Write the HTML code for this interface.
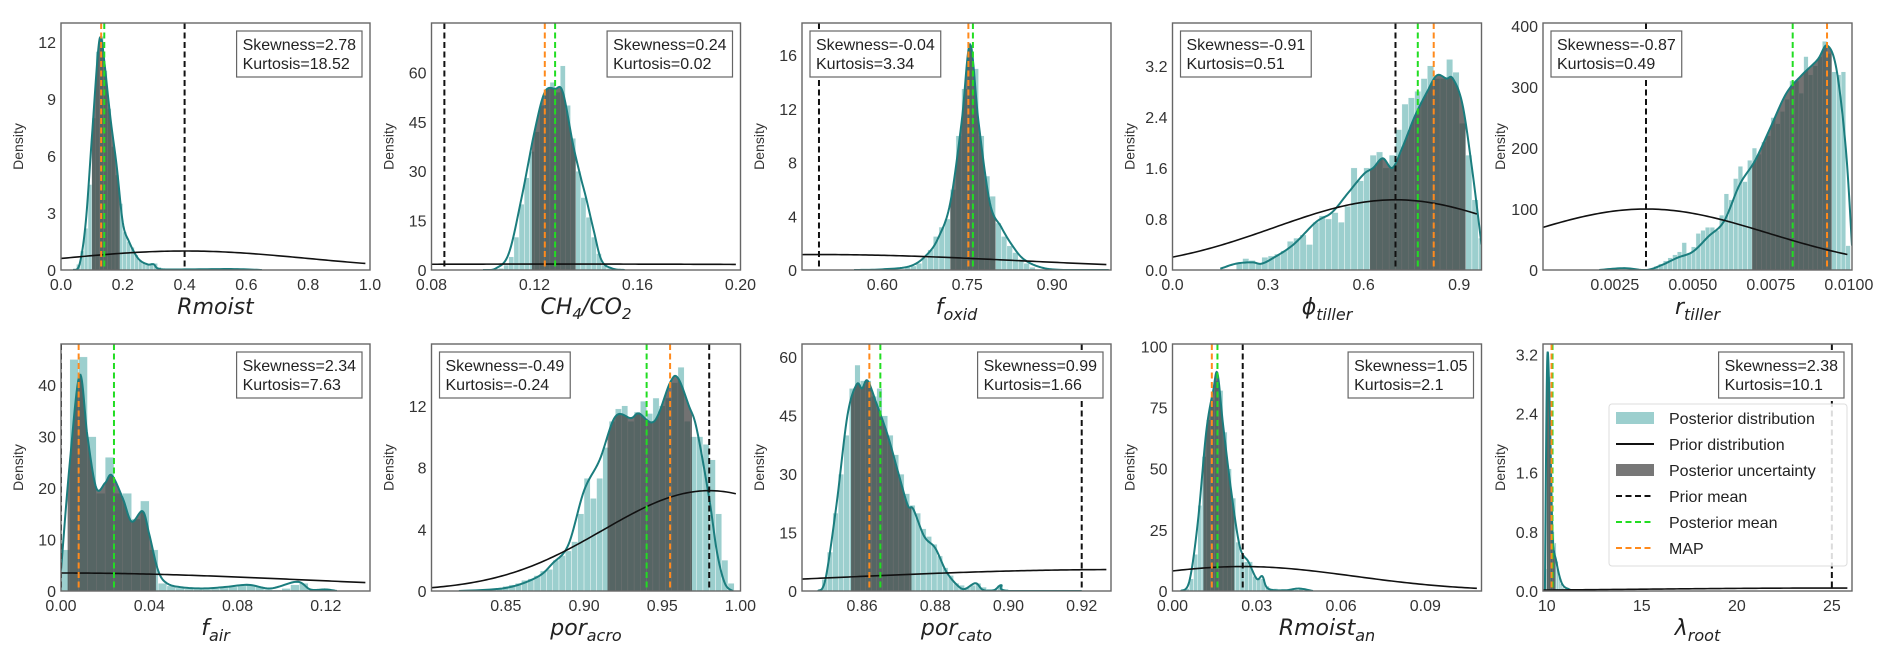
<!DOCTYPE html>
<html><head><meta charset="utf-8">
<style>
html,body{margin:0;padding:0;background:#fff;}
svg{display:block;font-family:"Liberation Sans",Arial,sans-serif;}
</style></head>
<body>
<svg id="fig" width="1892" height="656" viewBox="0 0 1892 656" xmlns="http://www.w3.org/2000/svg"></svg>
<script>
// ---------- data (per panel) ----------
const h1=[0.3,1.0,2.2,4.5,8,11.5,12.3,10.5,8.5,6.5,5,3.5,2,1.5,1.2,0.8,0.5,0.4,0.3,0.3,0.35,0.15,0.1];
const k1x=[0.04,0.06,0.08,0.10,0.12,0.13,0.14,0.16,0.18,0.20,0.22,0.25,0.28,0.30,0.32,0.40,0.55,0.65];
const k1y=[0,0.3,2.5,7,11.5,12.2,11,8,5.5,2.5,1.5,0.6,0.3,0.3,0.05,0.03,0.05,0];
const h2=[0.3,0.5,1.5,4,10,20,28,36,42,50,55,57,54,62,50,40,30,22,16,10,5,1.5,0.5];
const k2x=[0.10,0.105,0.11,0.115,0.12,0.124,0.128,0.131,0.135,0.138,0.14,0.143,0.146,0.15,0.155];
const k2y=[0,0.5,5,22,42,54,55,54,38,28,22,12,3,0.5,0];
const h3=[0.2,0.3,0.5,0.9,1.5,2.5,3.2,3.8,6,10,13.5,16.5,15,10,7,5.5,3.5,2.5,1.8,1.3,0.8,0.5,0.2];
const k3x=[0.55,0.60,0.65,0.68,0.70,0.72,0.74,0.755,0.77,0.79,0.81,0.83,0.85,0.88,0.92,1.0];
const k3y=[0,0.05,0.3,1.2,2.5,5,11,16.8,11,5,3.2,1.8,0.8,0.2,0,0];
const h4=[0.1,0.18,0.15,0.1,0.2,0.22,0.25,0.3,0.45,0.5,0.55,0.4,0.75,0.85,0.8,0.9,0.75,1.0,1.6,1.4,1.6,1.8,1.85,1.6,1.8,2.2,2.6,2.7,2.8,3.0,3.2,3.0,3.0,3.3,3.1,2.3,1.8,1.1,0.5];
const k4x=[0.15,0.20,0.25,0.28,0.32,0.38,0.45,0.50,0.55,0.60,0.63,0.66,0.69,0.72,0.76,0.80,0.83,0.86,0.88,0.91,0.94,0.97];
const k4y=[0.02,0.1,0.12,0.1,0.2,0.4,0.75,0.9,1.2,1.5,1.6,1.75,1.6,1.9,2.4,2.8,3.05,3.0,3.0,2.6,1.6,0.4];
const h5=[3,6,10,15,20,25,30,45,28,38,60,65,70,70,65,90,125,115,150,170,145,180,200,190,210,220,250,240,260,280,310,310,290,350,320,335,350,375,355,325,320,325,40];
const k5x=[0.002,0.0028,0.0035,0.004,0.0045,0.005,0.0055,0.006,0.0065,0.007,0.0075,0.008,0.0085,0.009,0.0093,0.0096,0.0099,0.0101];
const k5y=[0,3,0,8,20,30,55,80,140,180,235,290,320,345,368,330,200,40];
const h6=[8,45,45.5,30,19,26,19,19,14,17.5,8,1.5,1,0.6,0.4,0.3,0.3,0.4,0.6,0.8,1.0,1.2,0.8,0.3,0.2,0.5,1.2,1.5,0.4,0.2,0.1];
const k6x=[0,0.004,0.0085,0.012,0.016,0.02,0.023,0.028,0.032,0.037,0.04,0.044,0.048,0.055,0.065,0.075,0.085,0.095,0.107,0.113,0.12,0.125];
const k6y=[4,25,42,30,20,21,22.5,18,13.5,15.5,11,4,1.5,0.7,0.5,0.8,1.2,0.5,1.8,0.3,0.3,0];
const h7=[0.1,0.2,0.3,0.4,0.5,0.7,0.8,1.0,1.3,1.4,2.0,2.3,2.6,3.2,5,7.3,6,7.3,9.3,11,11.8,12,11,11.6,12.3,11.5,12.5,12,12.5,13.5,14.5,11,10,10,9.5,8.5,5,2,0.5];
const k7x=[0.82,0.85,0.87,0.88,0.89,0.90,0.91,0.92,0.93,0.935,0.945,0.955,0.96,0.967,0.972,0.98,0.985,0.99,0.995];
const k7y=[0,0.2,0.9,1.8,3,6.5,8.5,11.3,11.2,11.5,11,13.5,13.8,12,10.5,6,2.5,0.5,0];
const h8=[3,10,20,30,40,52,58,54,54,50,52,45,40,35,30,25,22,20,16,14,12,9,6,4,2,1.5,1,1.5,2,1,0.5,0.5,1.5,0.5];
const k8x=[0.848,0.85,0.853,0.856,0.8585,0.86,0.8615,0.864,0.867,0.87,0.8725,0.874,0.877,0.88,0.883,0.886,0.888,0.891,0.893,0.896,0.898,0.9,0.92];
const k8y=[0,3,22,45,53,52,54,48,40,30,22,21,14,11,5,1.5,0.5,2,0.3,0.2,1.5,0,0];
const h9=[1,5,15,35,55,70,78,86,82,65,50,38,20,15,12,12,6,5,5,2,1,1,0.5,0.5,0.5,0.5,0.5,1,0.2];
const k9x=[0.003,0.006,0.009,0.012,0.0145,0.016,0.018,0.021,0.024,0.027,0.03,0.032,0.034,0.04,0.045,0.05];
const k9y=[0,4,28,65,82,89,68,40,18,12,5,6,1,0.3,1,0];
const h10=[0.3,3.1,2.9,1.5,0.8,0.65,0.4,0.2,0.1,0.05,0.03];
const k10x=[9.9,10.02,10.15,10.3,10.5,10.8,11.2,11.5];
const k10y=[0,3.1,2.5,0.8,0.4,0.1,0.02,0];
// tick labels
const xt1=["0.0","0.2","0.4","0.6","0.8","1.0"], yt1=["0","3","6","9","12"];
const xt2=["0.08","0.12","0.16","0.20"], yt2=["15","30","45","60"];
const xt3=["0.60","0.75","0.90"], yt3=["0","4","8","12","16"];
const xt4=["0.0","0.3","0.6","0.9"], yt4=["0.0","0.8","1.6","2.4","3.2"];
const xt5=["0.0025","0.0050","0.0075","0.0100"], yt5=["0","100","200","300","400"];
const xt6=["0.00","0.04","0.08","0.12"], yt6=["0","10","20","30","40"];
const xt7=["0.85","0.90","0.95","1.00"], yt7=["0","4","8","12"];
const xt8=["0.86","0.88","0.90","0.92"], yt8=["0","15","30","45","60"];
const xt9=["0.00","0.03","0.06","0.09"], yt9=["0","25","50","75","100"];
const xt10=["10","15","20","25"], yt10=["0.0","0.8","1.6","2.4","3.2"];
// stats
const skew=["2.78","0.24","-0.04","-0.91","-0.87","2.34","-0.49","0.99","1.05","2.38"];
const kurt=["18.52","0.02","3.34","0.51","0.49","7.63","-0.24","1.66","2.1","10.1"];
// reference lines: prior mean, posterior mean, MAP
const priorMean=[0.4,0.085,0.488,0.70,0.0035,0.0,0.98,0.92,0.025,25];
const postMean=[0.14,0.128,0.760,0.77,0.0082,0.024,0.94,0.865,0.016,10.3];
const mapVal=[0.13,0.124,0.752,0.82,0.0093,0.008,0.955,0.862,0.014,10.25];
// prior normal: center, sd, peak
const priorMu=[0.4,0.13,0.49,0.70,0.0035,0.0,0.98,0.93,0.025,25];
const priorSd=[0.4,0.2,0.35,0.38,0.0039,0.112,0.068,0.08,0.0396,10];
const priorPk=[1.0,1.8,1.15,1.1,100,3.5,6.5,5.5,10,0.04];
// uncertainty interval
const uncLo=[0.10,0.119,0.72,0.62,0.0069,0.003,0.915,0.857,0.011,10.0];
const uncHi=[0.19,0.136,0.80,0.92,0.00945,0.043,0.969,0.8735,0.022,10.45];

const NS="http://www.w3.org/2000/svg";
const svg=document.getElementById('fig');
function mk(tag,attrs,parent){const e=document.createElementNS(NS,tag);for(const k in attrs)e.setAttribute(k,attrs[k]);(parent||svg).appendChild(e);return e;}

const W=309,H=247;
const cfgs=[
 {xmin:0,xmax:1.0,ymax:13,xt:xt1,yt:yt1,bs:0.05,bw:0.0125,h:h1,kx:k1x,ky:k1y,left:false,lab:'<tspan>Rmoist</tspan>'},
 {xmin:0.08,xmax:0.2,ymax:75,xt:xt2,yt:["0"].concat(yt2),bs:0.104,bw:0.002,h:h2,kx:k2x,ky:k2y,left:false,lab:'CH<tspan font-size="15" dy="5">4</tspan><tspan dy="-5">/CO</tspan><tspan font-size="15" dy="5">2</tspan>'},
 {xmin:0.458,xmax:1.004,ymax:18.4,xt:xt3,yt:yt3,bs:0.64,bw:0.01,h:h3,kx:k3x,ky:k3y,left:true,lab:'f<tspan font-size="16" dy="6">oxid</tspan>'},
 {xmin:0,xmax:0.97,ymax:3.87,xt:xt4,yt:yt4,bs:0.20,bw:0.02,h:h4,kx:k4x,ky:k4y,left:true,lab:'ϕ<tspan font-size="16" dy="6">tiller</tspan>'},
 {xmin:0.0002,xmax:0.0101,ymax:405,xt:xt5,yt:yt5,bs:0.0036,bw:0.00015,h:h5,kx:k5x,ky:k5y,left:true,lab:'r<tspan font-size="16" dy="6">tiller</tspan>'},
 {xmin:0,xmax:0.14,ymax:48,xt:xt6,yt:yt6,bs:0.0,bw:0.004,h:h6,kx:k6x,ky:k6y,left:false,lab:'f<tspan font-size="16" dy="6">air</tspan>'},
 {xmin:0.8025,xmax:1.0,ymax:16,xt:xt7,yt:yt7,bs:0.84,bw:0.004,h:h7,kx:k7x,ky:k7y,left:true,lab:'por<tspan font-size="16" dy="6">acro</tspan>'},
 {xmin:0.8436,xmax:0.928,ymax:63.4,xt:xt8,yt:yt8,bs:0.849,bw:0.0015,h:h8,kx:k8x,ky:k8y,left:false,lab:'por<tspan font-size="16" dy="6">cato</tspan>'},
 {xmin:0,xmax:0.110,ymax:101,xt:xt9,yt:yt9,bs:0.0045,bw:0.0015,h:h9,kx:k9x,ky:k9y,left:false,lab:'Rmoist<tspan font-size="16" dy="6">an</tspan>'},
 {xmin:9.8,xmax:26.06,ymax:3.34,xt:xt10,yt:yt10,bs:9.9,bw:0.1,h:h10,kx:k10x,ky:k10y,left:false,lab:'λ<tspan font-size="16" dy="6">root</tspan>'}
];

function spline(xs,ys){const pts=[];for(let i=0;i<xs.length-1;i++){const p0=[xs[Math.max(0,i-1)],ys[Math.max(0,i-1)]],p1=[xs[i],ys[i]],p2=[xs[i+1],ys[i+1]],p3=[xs[Math.min(xs.length-1,i+2)],ys[Math.min(xs.length-1,i+2)]];
 for(let s=0;s<12;s++){const t=s/12,t2=t*t,t3=t2*t;const f=(a,b,c,d)=>0.5*((2*b)+(-a+c)*t+(2*a-5*b+4*c-d)*t2+(-a+3*b-3*c+d)*t3);
 pts.push([f(p0[0],p1[0],p2[0],p3[0]),Math.max(0,f(p0[1],p1[1],p2[1],p3[1]))]);}}
 pts.push([xs[xs.length-1],ys[ys.length-1]]);return pts;}

cfgs.forEach((c,i)=>{
 const row=Math.floor(i/5),col=i%5;
 const L=61+col*370.5, T=row?344:23;
 const g=mk('g',{});
 
 
 const X=v=>L+(v-c.xmin)/(c.xmax-c.xmin)*W, Y=v=>T+H-v/c.ymax*H;
 const cid='clip'+i;
 const cp=mk('clipPath',{id:cid},g);mk('rect',{x:L,y:T,width:W,height:H},cp);
 const plot=mk('g',{'clip-path':'url(#'+cid+')'},g);
 c.h.forEach((v,j)=>{const x0=c.bs+j*c.bw;const r=mk('rect',{x:X(x0),y:Y(v),width:Math.max(0.5,X(x0+c.bw)-X(x0)),height:Y(0)-Y(v),fill:'#9ccfce',stroke:'#ffffff','stroke-width':0.4},plot);
  
  });
 const pts=spline(c.kx,c.ky);
 const lo=uncLo[i],hi=uncHi[i];
 const interp=x=>{for(let k=0;k<pts.length-1;k++){if(pts[k][0]<=x&&pts[k+1][0]>=x){const t=(x-pts[k][0])/((pts[k+1][0]-pts[k][0])||1);return pts[k][1]+t*(pts[k+1][1]-pts[k][1]);}}return 0;};
 let fd='M'+X(lo)+','+Y(0)+' L'+X(lo)+','+Y(interp(lo));
 pts.forEach(p=>{if(p[0]>lo&&p[0]<hi)fd+=' L'+X(p[0])+','+Y(p[1]);});
 fd+=' L'+X(hi)+','+Y(interp(hi))+' L'+X(hi)+','+Y(0)+'Z';
 const unc=mk('path',{d:fd,fill:'rgba(60,60,60,0.72)'},plot);
 
 
 const kd=mk('path',{d:'M'+pts.map(p=>X(p[0])+','+Y(p[1])).join(' L'),fill:'none',stroke:'#1b7d7e','stroke-width':2},plot);
 
 
 let pd='';for(let s=0;s<=100;s++){const x=c.xmin+(c.xmax-c.xmin)*(s/100)*0.985;const v=priorPk[i]*Math.exp(-Math.pow(x-priorMu[i],2)/(2*priorSd[i]*priorSd[i]));pd+=(s?' L':'M')+X(x)+','+Y(v);}
 const pr=mk('path',{d:pd,fill:'none',stroke:'#111','stroke-width':1.6},plot);
 
 
 [[priorMean[i],'#111','prior-mean-line'],[postMean[i],'#22dd22','posterior-mean-line'],[mapVal[i],'#ff8a1c','map-line']].forEach(a=>{
  const ln=mk('line',{x1:X(a[0]),x2:X(a[0]),y1:T,y2:T+H,stroke:a[1],'stroke-width':2,'stroke-dasharray':'6,3.5'},plot);
  
  });
 const fr=mk('rect',{x:L,y:T,width:W,height:H,fill:'none',stroke:'#666','stroke-width':1.4},g);
 
 
 c.xt.forEach(s=>{const v=parseFloat(s);const t=mk('text',{x:X(v),y:T+H+20,'text-anchor':'middle','font-size':16,fill:'#333'},g);t.textContent=s;
  
  });
 c.yt.forEach(s=>{const v=parseFloat(s);const t=mk('text',{x:L-5,y:Y(v)+6,'text-anchor':'end','font-size':16,fill:'#333'},g);t.textContent=s;
  
  });
 const dl=mk('text',{x:L-38,y:T+H/2,'text-anchor':'middle','font-size':14,fill:'#333',transform:'rotate(-90 '+(L-38)+' '+(T+H/2)+')'},g);dl.textContent='Density';
 
 
 const xl=mk('text',{x:L+W/2,y:T+H+44,'text-anchor':'middle','font-size':22,'font-style':'italic','font-family':'DejaVu Sans, sans-serif',fill:'#222'},g);xl.innerHTML=c.lab;
 
 
 const sb=mk('g',{},g);
 
 
 const r=mk('rect',{y:T+8,height:46,fill:'#fff',stroke:'#666','stroke-width':1.2},sb);
 const t1=mk('text',{y:T+27,'font-size':16,fill:'#222'},sb);t1.textContent='Skewness='+skew[i];
 const t2=mk('text',{y:T+46,'font-size':16,fill:'#222'},sb);t2.textContent='Kurtosis='+kurt[i];
 const tw=Math.max(t1.getComputedTextLength(),t2.getComputedTextLength());
 const bw=tw+12;const bx=c.left?L+8:L+W-8-bw;
 r.setAttribute('x',bx);r.setAttribute('width',bw);
 t1.setAttribute('x',bx+6);t2.setAttribute('x',bx+6);
});

const lg=mk('g',{});


mk('rect',{x:1609,y:404,width:238,height:162,rx:3,fill:'rgba(255,255,255,0.85)',stroke:'#ddd'},lg);
const legLabels=['Posterior distribution','Prior distribution','Posterior uncertainty','Prior mean','Posterior mean','MAP'];
legLabels.forEach((s,j)=>{const y=418+j*26;
 const e=mk('g',{},lg);
 
 
 if(j==0)mk('rect',{x:1616,y:y-6,width:38,height:12,fill:'#9ccfce'},e);
 else if(j==2)mk('rect',{x:1616,y:y-6,width:38,height:12,fill:'#777'},e);
 else{const col=['','#111','','#111','#22dd22','#ff8a1c'][j];mk('line',{x1:1616,x2:1654,y1:y,y2:y,stroke:col,'stroke-width':2,'stroke-dasharray':j==1?'':'6,3.5'},e);}
 const t=mk('text',{x:1669,y:y+6,'font-size':16,fill:'#222'},e);t.textContent=s;});
</script>
</body></html>
